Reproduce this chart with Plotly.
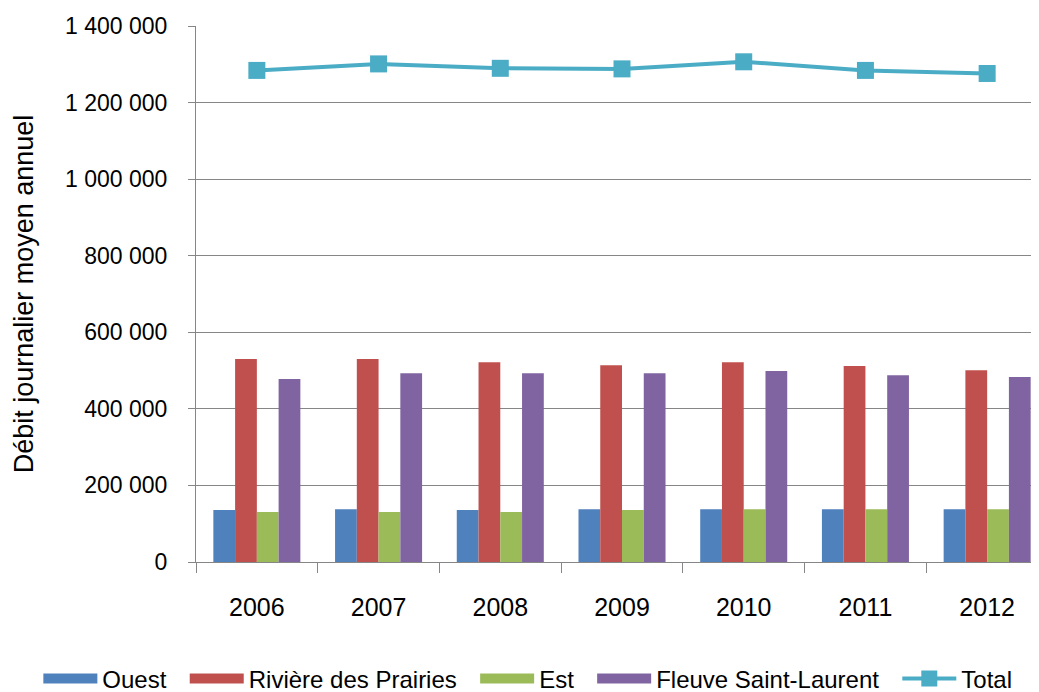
import plotly.graph_objects as go

years = ["2006", "2007", "2008", "2009", "2010", "2011", "2012"]
ouest = [136000, 138000, 136000, 138000, 138000, 138000, 138000]
riviere = [530000, 530000, 522000, 514000, 522000, 512000, 501000]
est = [130500, 130500, 130500, 136000, 138000, 138000, 138000]
fleuve = [478000, 493000, 493000, 493000, 499000, 488000, 483000]
total = [1284000, 1301000, 1289500, 1288000, 1306500, 1284000, 1276000]

ytickvals = [0, 200000, 400000, 600000, 800000, 1000000, 1200000, 1400000]
yticktext = ["0", "200 000", "400 000", "600 000", "800 000", "1 000 000", "1 200 000", "1 400 000"]

FONT = "Liberation Sans, Arial, sans-serif"
PAD = "\u00a0\u00a0"  # spacing between legend entries
series = [
    ("Ouest", ouest, "#4F81BD"),
    ("Rivière des Prairies", riviere, "#C0504D"),
    ("Est", est, "#9BBB59"),
    ("Fleuve Saint-Laurent", fleuve, "#8064A2"),
]

fig = go.Figure()
for name, vals, col in series:
    fig.add_trace(go.Bar(x=years, y=vals, name=name, showlegend=False,
                         marker=dict(color=col, line=dict(width=0))))
# legend swatches (wide rectangles like the original legend)
for name, vals, col in series:
    fig.add_trace(go.Scatter(x=[None], y=[None], name=name + PAD, mode="lines",
                             line=dict(color=col, width=13)))

fig.add_trace(go.Scatter(
    x=years, y=total, name="Total", mode="lines+markers",
    line=dict(color="#4BACC6", width=4),
    marker=dict(symbol="square", size=17, color="#4BACC6"),
))

# body of the page has an 8px margin: figure sized so it fills the window
fig.update_layout(
    width=1031, height=684,
    margin=dict(l=188, r=0, t=18, b=130, autoexpand=False),
    paper_bgcolor="white", plot_bgcolor="white",
    barmode="group", bargap=0.285, bargroupgap=0,
    font=dict(family=FONT, size=22, color="black"),
    showlegend=True,
    legend=dict(orientation="h", x=-0.187, xanchor="left", y=-0.218, yanchor="middle",
                font=dict(size=24), itemwidth=54, traceorder="normal",
                bgcolor="rgba(0,0,0,0)"),
)
fig.update_xaxes(
    type="category", range=[-0.5, 6.426], automargin=False,
    showline=True, linecolor="#868686", linewidth=1,
    ticks="outside", ticklen=10, tickcolor="#868686",
    showgrid=False, tickson="boundaries",
    tickfont=dict(size=25), ticklabelstandoff=23,
)
fig.update_yaxes(
    range=[0, 1400000], tickvals=ytickvals, ticktext=yticktext, automargin=False,
    showline=True, linecolor="#868686", linewidth=1,
    ticks="outside", ticklen=7, tickcolor="#868686",
    showgrid=True, gridcolor="#868686", gridwidth=1,
    zeroline=False, ticklabelstandoff=16,
    title=dict(text="Débit journalier moyen annuel", font=dict(size=27), standoff=23),
    tickfont=dict(size=23),
)

fig.write_html("out.html")
